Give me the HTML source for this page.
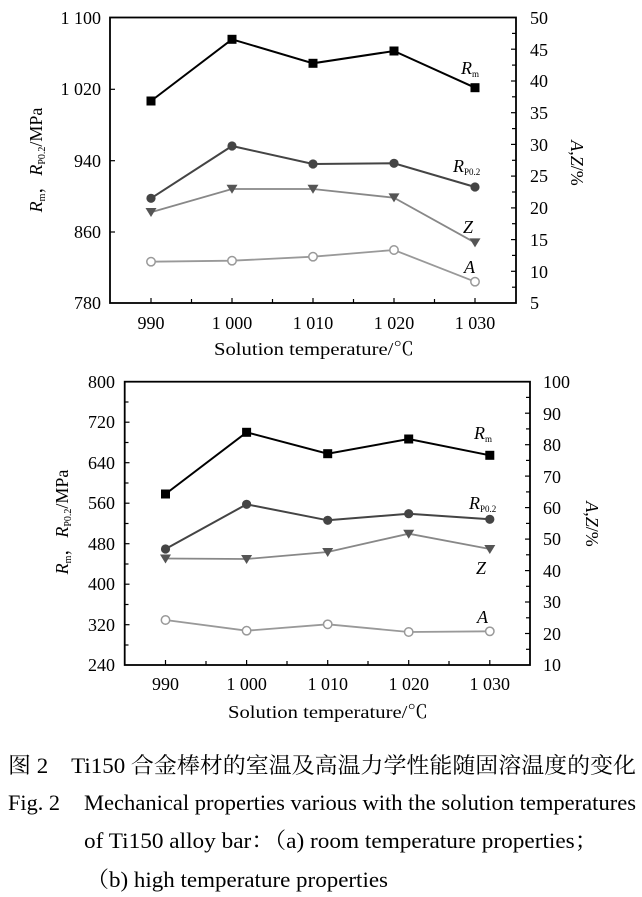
<!DOCTYPE html>
<html><head><meta charset="utf-8"><style>
body{margin:0;background:#fff}
svg{display:block}
text{font-family:"Liberation Serif","Noto Serif CJK SC",serif;fill:#000}
.t{font-size:18px}
.c{font-family:"Liberation Serif","Noto Serif CJK SC",serif;font-size:22px}
</style></head><body>
<svg width="642" height="897" viewBox="0 0 642 897" xmlns="http://www.w3.org/2000/svg">
<!-- Chart 1 -->
<rect x="110" y="17.5" width="406" height="285.5" fill="none" stroke="#000" stroke-width="1.8"/>
<g stroke="#000" stroke-width="1.2">
<line x1="110" y1="89.3" x2="115" y2="89.3"/><line x1="110" y1="160.7" x2="115" y2="160.7"/><line x1="110" y1="232" x2="115" y2="232"/>
<line x1="151" y1="303" x2="151" y2="298"/><line x1="191.5" y1="303" x2="191.5" y2="299"/><line x1="232" y1="303" x2="232" y2="298"/><line x1="272.5" y1="303" x2="272.5" y2="299"/><line x1="313" y1="303" x2="313" y2="298"/><line x1="353.5" y1="303" x2="353.5" y2="299"/><line x1="394" y1="303" x2="394" y2="298"/><line x1="434.5" y1="303" x2="434.5" y2="299"/><line x1="475" y1="303" x2="475" y2="298"/>
<line x1="516" y1="33.4" x2="512" y2="33.4"/><line x1="516" y1="49.2" x2="511" y2="49.2"/><line x1="516" y1="65.1" x2="512" y2="65.1"/><line x1="516" y1="81" x2="511" y2="81"/><line x1="516" y1="96.8" x2="512" y2="96.8"/><line x1="516" y1="112.7" x2="511" y2="112.7"/><line x1="516" y1="128.6" x2="512" y2="128.6"/><line x1="516" y1="144.4" x2="511" y2="144.4"/><line x1="516" y1="160.3" x2="512" y2="160.3"/><line x1="516" y1="176.1" x2="511" y2="176.1"/><line x1="516" y1="192" x2="512" y2="192"/><line x1="516" y1="207.9" x2="511" y2="207.9"/><line x1="516" y1="223.7" x2="512" y2="223.7"/><line x1="516" y1="239.6" x2="511" y2="239.6"/><line x1="516" y1="255.4" x2="512" y2="255.4"/><line x1="516" y1="271.3" x2="511" y2="271.3"/><line x1="516" y1="287.2" x2="512" y2="287.2"/>
</g>
<g class="t" text-anchor="end">
<text x="101" y="24">1 100</text><text x="101" y="95">1 020</text><text x="101" y="167">940</text><text x="101" y="238">860</text><text x="101" y="309">780</text>
</g>
<g class="t">
<text x="530" y="24">50</text><text x="530" y="56">45</text><text x="530" y="87">40</text><text x="530" y="119">35</text><text x="530" y="151">30</text><text x="530" y="182">25</text><text x="530" y="214">20</text><text x="530" y="246">15</text><text x="530" y="278">10</text><text x="530" y="309">5</text>
</g>
<g class="t" text-anchor="middle">
<text x="151" y="329">990</text><text x="232" y="329">1 000</text><text x="313" y="329">1 010</text><text x="394" y="329">1 020</text><text x="475" y="329">1 030</text>
<text x="314" y="355" textLength="200" lengthAdjust="spacingAndGlyphs">Solution temperature/℃</text>
</g>
<text class="t" transform="translate(42,160) rotate(-90)" text-anchor="middle"><tspan font-style="italic">R</tspan><tspan font-size="10" dy="3">m</tspan><tspan dy="-3">，</tspan><tspan font-style="italic">R</tspan><tspan font-size="10" dy="3">P0.2</tspan><tspan dy="-3">/MPa</tspan></text>
<text class="t" transform="translate(571,163) rotate(90)" text-anchor="middle" fill="#333"><tspan font-style="italic">A</tspan>,<tspan font-style="italic">Z</tspan>/%</text>
<polyline points="151,101 232,39.3 313,63.3 394,51 475,87.7" fill="none" stroke="#000" stroke-width="2"/>
<g fill="#000"><rect x="146.5" y="96.5" width="9" height="9"/><rect x="227.5" y="34.8" width="9" height="9"/><rect x="308.5" y="58.8" width="9" height="9"/><rect x="389.5" y="46.5" width="9" height="9"/><rect x="470.5" y="83.2" width="9" height="9"/></g>
<polyline points="151,198.3 232,146 313,164 394,163.3 475,187" fill="none" stroke="#444" stroke-width="2"/>
<g fill="#444"><circle cx="151" cy="198.3" r="4.6"/><circle cx="232" cy="146" r="4.6"/><circle cx="313" cy="164" r="4.6"/><circle cx="394" cy="163.3" r="4.6"/><circle cx="475" cy="187" r="4.6"/></g>
<polyline points="151,212.3 232,189 313,189 394,197.7 475,242.7" fill="none" stroke="#888" stroke-width="1.8"/>
<g fill="#555"><path d="M145.5,208h11l-5.5,9z"/><path d="M226.5,184.7h11l-5.5,9z"/><path d="M307.5,184.7h11l-5.5,9z"/><path d="M388.5,193.4h11l-5.5,9z"/><path d="M469.5,238.4h11l-5.5,9z"/></g>
<polyline points="151,261.7 232,260.7 313,256.7 394,250 475,281.7" fill="none" stroke="#999" stroke-width="1.8"/>
<g fill="#fff" stroke="#999" stroke-width="1.5"><circle cx="151" cy="261.7" r="4.2"/><circle cx="232" cy="260.7" r="4.2"/><circle cx="313" cy="256.7" r="4.2"/><circle cx="394" cy="250" r="4.2"/><circle cx="475" cy="281.7" r="4.2"/></g>
<text class="t" x="461" y="74"><tspan font-style="italic">R</tspan><tspan font-size="9" dy="3">m</tspan></text>
<text class="t" x="453" y="172"><tspan font-style="italic">R</tspan><tspan font-size="9" dy="3">P0.2</tspan></text>
<text class="t" x="463" y="233" font-style="italic">Z</text>
<text class="t" x="464" y="273" font-style="italic" fill="#444">A</text>

<!-- Chart 2 -->
<rect x="124.7" y="381.7" width="405.3" height="283.3" fill="none" stroke="#000" stroke-width="1.8"/>
<g stroke="#000" stroke-width="1.2">
<line x1="124.7" y1="402" x2="128.5" y2="402"/><line x1="124.7" y1="422.2" x2="129.5" y2="422.2"/><line x1="124.7" y1="442.5" x2="128.5" y2="442.5"/><line x1="124.7" y1="462.7" x2="129.5" y2="462.7"/><line x1="124.7" y1="483" x2="128.5" y2="483"/><line x1="124.7" y1="503.2" x2="129.5" y2="503.2"/><line x1="124.7" y1="523.5" x2="128.5" y2="523.5"/><line x1="124.7" y1="543.7" x2="129.5" y2="543.7"/><line x1="124.7" y1="564" x2="128.5" y2="564"/><line x1="124.7" y1="584.2" x2="129.5" y2="584.2"/><line x1="124.7" y1="604.5" x2="128.5" y2="604.5"/><line x1="124.7" y1="624.7" x2="129.5" y2="624.7"/><line x1="124.7" y1="645" x2="128.5" y2="645"/>
<line x1="165.5" y1="665" x2="165.5" y2="660"/><line x1="206" y1="665" x2="206" y2="661"/><line x1="246.6" y1="665" x2="246.6" y2="660"/><line x1="287" y1="665" x2="287" y2="661"/><line x1="327.7" y1="665" x2="327.7" y2="660"/><line x1="368" y1="665" x2="368" y2="661"/><line x1="408.7" y1="665" x2="408.7" y2="660"/><line x1="449" y1="665" x2="449" y2="661"/><line x1="489.8" y1="665" x2="489.8" y2="660"/>
<line x1="530" y1="397.4" x2="526" y2="397.4"/><line x1="530" y1="413.2" x2="525" y2="413.2"/><line x1="530" y1="428.9" x2="526" y2="428.9"/><line x1="530" y1="444.7" x2="525" y2="444.7"/><line x1="530" y1="460.4" x2="526" y2="460.4"/><line x1="530" y1="476.1" x2="525" y2="476.1"/><line x1="530" y1="491.9" x2="526" y2="491.9"/><line x1="530" y1="507.6" x2="525" y2="507.6"/><line x1="530" y1="523.4" x2="526" y2="523.4"/><line x1="530" y1="539.1" x2="525" y2="539.1"/><line x1="530" y1="554.8" x2="526" y2="554.8"/><line x1="530" y1="570.6" x2="525" y2="570.6"/><line x1="530" y1="586.3" x2="526" y2="586.3"/><line x1="530" y1="602" x2="525" y2="602"/><line x1="530" y1="617.8" x2="526" y2="617.8"/><line x1="530" y1="633.5" x2="525" y2="633.5"/><line x1="530" y1="649.3" x2="526" y2="649.3"/>
</g>
<g class="t" text-anchor="end">
<text x="115" y="388">800</text><text x="115" y="428">720</text><text x="115" y="469">640</text><text x="115" y="509">560</text><text x="115" y="550">480</text><text x="115" y="590">400</text><text x="115" y="631">320</text><text x="115" y="671">240</text>
</g>
<g class="t">
<text x="543" y="388">100</text><text x="543" y="420">90</text><text x="543" y="451">80</text><text x="543" y="483">70</text><text x="543" y="514">60</text><text x="543" y="545">50</text><text x="543" y="577">40</text><text x="543" y="608">30</text><text x="543" y="640">20</text><text x="543" y="671">10</text>
</g>
<g class="t" text-anchor="middle">
<text x="165.5" y="690">990</text><text x="246.6" y="690">1 000</text><text x="327.7" y="690">1 010</text><text x="408.7" y="690">1 020</text><text x="489.8" y="690">1 030</text>
<text x="328" y="718" textLength="200" lengthAdjust="spacingAndGlyphs">Solution temperature/℃</text>
</g>
<text class="t" transform="translate(68,522) rotate(-90)" text-anchor="middle"><tspan font-style="italic">R</tspan><tspan font-size="10" dy="3">m</tspan><tspan dy="-3">，</tspan><tspan font-style="italic">R</tspan><tspan font-size="10" dy="3">P0.2</tspan><tspan dy="-3">/MPa</tspan></text>
<text class="t" transform="translate(586,524) rotate(90)" text-anchor="middle" fill="#333"><tspan font-style="italic">A</tspan>,<tspan font-style="italic">Z</tspan>/%</text>
<polyline points="165.5,494 246.6,432.3 327.7,453.7 408.7,439 489.8,455.3" fill="none" stroke="#000" stroke-width="2"/>
<g fill="#000"><rect x="161" y="489.5" width="9" height="9"/><rect x="242.1" y="427.8" width="9" height="9"/><rect x="323.2" y="449.2" width="9" height="9"/><rect x="404.2" y="434.5" width="9" height="9"/><rect x="485.3" y="450.8" width="9" height="9"/></g>
<polyline points="165.5,549 246.6,504.3 327.7,520.3 408.7,513.7 489.8,519.3" fill="none" stroke="#444" stroke-width="2"/>
<g fill="#444"><circle cx="165.5" cy="549" r="4.6"/><circle cx="246.6" cy="504.3" r="4.6"/><circle cx="327.7" cy="520.3" r="4.6"/><circle cx="408.7" cy="513.7" r="4.6"/><circle cx="489.8" cy="519.3" r="4.6"/></g>
<polyline points="165.5,558.5 246.6,559 327.7,552 408.7,533.7 489.8,549" fill="none" stroke="#888" stroke-width="1.8"/>
<g fill="#555"><path d="M160,554.5h11l-5.5,9z"/><path d="M241.1,555h11l-5.5,9z"/><path d="M322.2,548h11l-5.5,9z"/><path d="M403.2,529.7h11l-5.5,9z"/><path d="M484.3,545h11l-5.5,9z"/></g>
<polyline points="165.5,620 246.6,630.7 327.7,624.3 408.7,632 489.8,631.3" fill="none" stroke="#999" stroke-width="1.8"/>
<g fill="#fff" stroke="#999" stroke-width="1.5"><circle cx="165.5" cy="620" r="4.2"/><circle cx="246.6" cy="630.7" r="4.2"/><circle cx="327.7" cy="624.3" r="4.2"/><circle cx="408.7" cy="632" r="4.2"/><circle cx="489.8" cy="631.3" r="4.2"/></g>
<text class="t" x="474" y="439"><tspan font-style="italic">R</tspan><tspan font-size="9" dy="3">m</tspan></text>
<text class="t" x="469" y="509"><tspan font-style="italic">R</tspan><tspan font-size="9" dy="3">P0.2</tspan></text>
<text class="t" x="476" y="574" font-style="italic">Z</text>
<text class="t" x="477" y="623" font-style="italic" fill="#444">A</text>

<!-- Caption -->
<text class="c" x="8" y="773" textLength="628" lengthAdjust="spacingAndGlyphs">图 2　Ti150 合金棒材的室温及高温力学性能随固溶温度的变化</text>
<text class="c" x="8" y="810" textLength="52" lengthAdjust="spacingAndGlyphs">Fig. 2</text>
<text class="c" x="84" y="810" textLength="552" lengthAdjust="spacingAndGlyphs">Mechanical properties various with the solution temperatures</text>
<text class="c" x="84" y="848" textLength="514" lengthAdjust="spacingAndGlyphs">of Ti150 alloy bar：（a) room temperature properties；</text>
<text class="c" x="86" y="887" textLength="302" lengthAdjust="spacingAndGlyphs">（b) high temperature properties</text>
</svg>
</body></html>
